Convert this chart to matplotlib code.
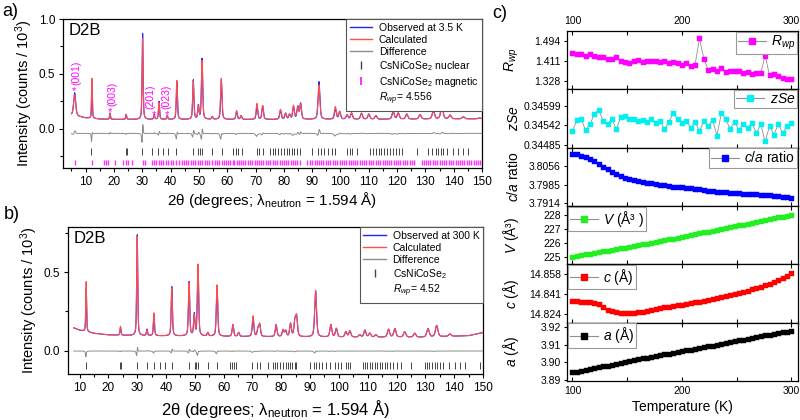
import numpy as np
import matplotlib
matplotlib.use('Agg')
import matplotlib.pyplot as plt
from matplotlib.lines import Line2D
from matplotlib.ticker import MultipleLocator, FixedLocator

plt.rcParams['font.family'] = ['Liberation Sans', 'DejaVu Sans']
plt.rcParams['mathtext.fontset'] = 'custom'
plt.rcParams['mathtext.rm'] = 'Liberation Sans'
plt.rcParams['mathtext.it'] = 'Liberation Sans:italic'
plt.rcParams['mathtext.bf'] = 'Liberation Sans:bold'
plt.rcParams['axes.linewidth'] = 0.9

# ---------------- panel a : D2B, 3.5 K ----------------
bg_a_x = [5, 7, 10, 15, 20, 40, 80, 120, 150]
bg_a_y = [0.125, 0.115, 0.100, 0.090, 0.087, 0.086, 0.086, 0.088, 0.092]
peak_a_pos = [6.1, 12.2, 18.6, 24.3, 30.1, 34.2, 35.9, 38.8, 42.2, 48.0, 49.8, 51.1,
              54.7, 57.9, 63.3, 64.9, 70.5, 72.5, 78.8, 80.6, 82.0, 83.4, 84.9, 85.9,
              92.4, 98.2, 99.7, 102.3, 103.9, 107.4, 110.0, 112.5, 118.6, 120.4, 123.4,
              128.1, 132.8, 135.8, 138.7, 143.4, 149.1]
peak_a_obs = [0.33, 0.43, 0.145, 0.13, 0.87, 0.13, 0.25, 0.12, 0.43, 0.445, 0.21, 0.64,
              0.11, 0.44, 0.16, 0.12, 0.21, 0.21, 0.17, 0.14, 0.13, 0.20, 0.20, 0.23,
              0.43, 0.18, 0.157, 0.127, 0.143, 0.143, 0.135, 0.12, 0.157, 0.143, 0.135,
              0.13, 0.167, 0.21, 0.125, 0.11, 0.10]
peak_a_calc = [0.31, 0.46, 0.14, 0.135, 0.83, 0.125, 0.24, 0.118, 0.44, 0.43, 0.20, 0.62,
               0.112, 0.46, 0.165, 0.12, 0.23, 0.21, 0.175, 0.14, 0.13, 0.21, 0.19, 0.22,
               0.40, 0.20, 0.155, 0.127, 0.145, 0.14, 0.135, 0.12, 0.16, 0.145, 0.135,
               0.13, 0.16, 0.20, 0.125, 0.11, 0.10]
nuc_a = [12.0, 24.1, 24.6, 30.0, 33.5, 35.6, 37.4, 39.2, 42.0, 48.0, 49.8, 50.4, 51.2,
         54.8, 58.0, 62.1, 63.0, 63.9, 65.2, 70.4, 71.3, 72.8, 75.1, 76.0, 77.0, 78.0,
         79.0, 80.2, 81.0, 81.9, 82.9, 83.7, 84.5, 85.7, 90.0, 92.0, 93.2, 94.3, 95.5,
         96.9, 98.1, 102.2, 103.2, 104.1, 105.8, 110.4, 111.5, 112.5, 113.5, 114.5,
         115.4, 116.5, 117.4, 118.4, 119.6, 120.6, 121.9, 126.9, 131.0, 132.2, 133.6,
         134.5, 135.4, 136.3, 137.5, 139.7, 141.6, 143.2, 145.0]
mag_a = [6.1, 12.2, 16.6, 17.2, 18.0, 20.5, 23.3, 24.2, 24.9, 26.2, 30.1, 30.9,
         33.5, 34.2, 35.0, 35.8, 36.5, 37.4, 38.3, 39.0, 40.0, 40.8, 42.0, 43.1, 43.9,
         44.6, 45.5, 46.3, 47.1, 48.0, 48.8, 49.8, 50.4, 51.2, 52.1, 52.9, 53.7, 54.8,
         55.6, 56.3, 57.2, 58.0, 58.9, 59.6, 60.4, 61.1, 61.9, 62.5, 63.3, 64.0, 64.9,
         65.7, 66.4, 67.3, 68.1, 68.8, 69.7, 70.4, 71.3, 72.0, 72.8, 73.7, 74.5, 75.2,
         76.0, 76.9, 77.6, 78.5, 79.2, 80.1, 80.8, 81.6, 82.5, 83.3, 84.0, 84.8, 85.7,
         88.3, 89.1, 90.0, 90.9, 91.6, 92.4, 93.3, 94.0, 94.8, 95.7, 96.4, 97.2, 98.1,
         98.8, 99.7, 100.4, 101.2, 102.1, 102.9, 103.6, 104.4, 105.3, 106.0, 106.8,
         107.7, 108.4, 109.2, 110.1, 110.8, 111.6, 112.5, 113.2, 114.0, 114.9, 115.6,
         116.4, 117.3, 118.0, 118.8, 119.7, 120.4, 121.2, 122.1, 122.8, 123.6, 124.5,
         125.2, 126.0, 128.7, 129.4, 130.2, 131.1, 131.8, 132.6, 133.5, 134.2, 135.0,
         135.9, 136.6, 137.4, 138.3, 139.0, 139.8, 140.7, 141.4, 142.2, 143.1, 143.8,
         144.6, 145.5, 146.2, 147.0, 147.9, 148.6, 149.4]
mag_labels = ['(001)', '(003)', '(201)', '(023)']
mag_star_x = [6.0, 18.6, 34.3, 38.7]
mag_star_y = [0.345, 0.15, 0.13, 0.125]
mag_text_x = [6.6, 19.3, 33.0, 38.5]

# ---------------- panel b : D2B, 300 K ----------------
bg_b_x = [8, 10, 15, 20, 30, 60, 100, 130, 145, 150]
bg_b_y = [0.145, 0.13, 0.11, 0.10, 0.095, 0.09, 0.085, 0.085, 0.095, 0.115]
peak_b_pos = [12.3, 24.2, 30.0, 33.4, 35.8, 42.0, 48.0, 49.8, 51.1, 54.5, 57.7, 63.2,
              65.2, 70.2, 71.9, 72.5, 78.2, 80.6, 81.5, 83.2, 84.7, 85.3, 91.9, 97.2,
              99.1, 102.4, 103.8, 107.2, 109.0, 110.7, 112.8, 117.2, 119.4, 122.8, 126.3,
              130.9, 133.9, 138.5]
peak_b_obs = [0.40, 0.15, 0.745, 0.135, 0.225, 0.41, 0.44, 0.23, 0.53, 0.113, 0.41, 0.165,
              0.115, 0.21, 0.135, 0.165, 0.165, 0.13, 0.125, 0.17, 0.18, 0.21, 0.38, 0.165,
              0.14, 0.12, 0.125, 0.10, 0.13, 0.11, 0.10, 0.135, 0.14, 0.12, 0.11,
              0.14, 0.16, 0.105]
peak_b_calc = [0.445, 0.155, 0.73, 0.13, 0.24, 0.40, 0.43, 0.22, 0.55, 0.113, 0.42, 0.165,
               0.115, 0.22, 0.135, 0.165, 0.165, 0.13, 0.125, 0.17, 0.18, 0.21, 0.385, 0.165,
               0.14, 0.12, 0.125, 0.10, 0.13, 0.11, 0.10, 0.135, 0.14, 0.12, 0.11,
               0.14, 0.16, 0.105]
nuc_b = [12.3, 24.2, 24.4, 30.0, 33.4, 35.8, 37.8, 39.5, 42.0, 48.0, 49.9, 50.5, 51.1,
         54.5, 57.7, 62.3, 63.0, 63.6, 64.4, 70.0, 71.6, 72.5, 75.4, 77.1, 77.7, 78.5,
         79.4, 80.6, 81.5, 82.3, 82.9, 83.8, 84.7, 85.2, 89.9, 91.3, 92.2, 93.1, 94.3,
         95.4, 96.8, 98.5, 99.7, 100.9, 102.4, 103.2, 103.8, 108.2, 109.0, 109.8, 110.7,
         111.6, 112.4, 113.2, 114.2, 115.1, 115.9, 116.7, 117.6, 118.8, 120.0, 121.7,
         124.9, 129.8, 130.6, 131.3, 132.3, 133.3, 134.1, 135.0, 136.2, 138.1, 140.2,
         141.9, 143.7, 149.1]

# ---------------- panel c : refined parameters vs temperature ----------------
T = np.arange(100, 301, 4)
rwp = [1.443, 1.441, 1.438, 1.432, 1.440, 1.430, 1.425, 1.428, 1.420, 1.418,
       1.425, 1.410, 1.405, 1.400, 1.410, 1.415, 1.405, 1.410, 1.408, 1.410,
       1.405, 1.408, 1.400, 1.405, 1.402, 1.395, 1.400, 1.390, 1.395, 1.505,
       1.420, 1.372, 1.378, 1.370, 1.382, 1.365, 1.370, 1.366, 1.368, 1.360,
       1.362, 1.355, 1.358, 1.360, 1.432, 1.350, 1.355, 1.345, 1.340, 1.335, 1.336]
zse = [0.34525, 0.34558, 0.34560, 0.34528, 0.34545, 0.34575, 0.34588, 0.34555, 0.34545, 0.34562,
       0.34530, 0.34565, 0.34570, 0.34560, 0.34562, 0.34555, 0.34558, 0.34552, 0.34560, 0.34550,
       0.34556, 0.34530, 0.34552, 0.34578, 0.34560, 0.34548, 0.34555, 0.34535, 0.34552, 0.34525,
       0.34555, 0.34540, 0.34558, 0.34512, 0.34578, 0.34560, 0.34532, 0.34552, 0.34528, 0.34545,
       0.34535, 0.34548, 0.34520, 0.34545, 0.34495, 0.34540, 0.34515, 0.34545, 0.34520, 0.34540, 0.34548]
c_over_a = [3.8102, 3.8100, 3.8096, 3.8090, 3.8082, 3.8074, 3.8064, 3.8054, 3.8044, 3.8034,
            3.8026, 3.8018, 3.8012, 3.8007, 3.8002, 3.7999, 3.7996, 3.7993, 3.7990, 3.7987,
            3.7985, 3.7983, 3.7980, 3.7978, 3.7976, 3.7975, 3.7973, 3.7971, 3.7969, 3.7967,
            3.7965, 3.7962, 3.7960, 3.7958, 3.7958, 3.7956, 3.7954, 3.7953, 3.7953, 3.7951,
            3.7950, 3.7949, 3.7949, 3.7947, 3.7946, 3.7944, 3.7943, 3.7941, 3.7939, 3.7938, 3.7936]
vol = [225.00, 225.05, 225.10, 225.16, 225.21, 225.26, 225.32, 225.38, 225.43, 225.49,
       225.55, 225.60, 225.66, 225.72, 225.78, 225.84, 225.90, 225.95, 226.01, 226.07,
       226.13, 226.19, 226.25, 226.31, 226.38, 226.44, 226.50, 226.56, 226.62, 226.68,
       226.75, 226.81, 226.87, 226.93, 227.00, 227.06, 227.12, 227.19, 227.25, 227.31,
       227.38, 227.44, 227.50, 227.57, 227.63, 227.70, 227.76, 227.83, 227.89, 227.96, 228.03]
c_par = [14.8355, 14.8350, 14.8348, 14.8346, 14.8342, 14.8335, 14.8325, 14.8300, 14.8280, 14.8268,
         14.8262, 14.8255, 14.8250, 14.8252, 14.8255, 14.8258, 14.8262, 14.8270, 14.8278, 14.8285,
         14.8290, 14.8298, 14.8302, 14.8310, 14.8318, 14.8322, 14.8330, 14.8335, 14.8342, 14.8348,
         14.8352, 14.8360, 14.8368, 14.8378, 14.8385, 14.8395, 14.8405, 14.8410, 14.8420, 14.8432,
         14.8440, 14.8452, 14.8462, 14.8475, 14.8488, 14.8500, 14.8515, 14.8528, 14.8545, 14.8565, 14.8590]
a_par = [3.8945, 3.8948, 3.8953, 3.8957, 3.8962, 3.8968, 3.8972, 3.8978, 3.8982, 3.8988,
         3.8993, 3.8998, 3.9003, 3.9008, 3.9012, 3.9017, 3.9022, 3.9026, 3.9031, 3.9036,
         3.9040, 3.9045, 3.9049, 3.9054, 3.9058, 3.9063, 3.9068, 3.9072, 3.9077, 3.9082,
         3.9086, 3.9091, 3.9095, 3.9100, 3.9105, 3.9110, 3.9114, 3.9119, 3.9124, 3.9128,
         3.9133, 3.9138, 3.9142, 3.9147, 3.9152, 3.9156, 3.9161, 3.9165, 3.9170, 3.9174, 3.9178]

BLUE = '#2222ff'
RED = '#ff4d4d'
GRAY = '#8c8c8c'


def profile(x, bgx, bgy, pos, tops, shift=0.0, sharp=1.0):
    # background + pseudo-Voigt peaks whose tops sit at the values
    y = np.interp(x, bgx, bgy)
    for p, t in zip(pos, tops):
        h = t - np.interp(p, bgx, bgy)
        w = 0.9 if p < 8 else 0.28 + 0.0055 * p
        w *= sharp
        d = (x - p - shift) / w
        y = y + h * (0.5 * np.exp(-4 * np.log(2) * d ** 2) + 0.5 / (1 + 4 * d ** 2))
    return y


def style_pattern(ax, xlim, ylim, yticks):
    ax.set_xlim(xlim)
    ax.set_ylim(ylim)
    ax.xaxis.set_major_locator(FixedLocator(range(10, 151, 10)))
    ax.xaxis.set_minor_locator(MultipleLocator(5))
    ax.set_yticks(yticks)
    ax.yaxis.set_minor_locator(MultipleLocator(0.25))
    ax.tick_params(which='both', direction='out', labelsize=8.5, length=3, width=0.8, pad=2.5)
    ax.tick_params(which='minor', length=2)
    ax.set_ylabel('Intensity (counts / 10$^3$)', fontsize=10.5, labelpad=3)
    ax.text(0.013, 0.975, 'D2B', transform=ax.transAxes, va='top', ha='left', fontsize=12)


fig = plt.figure(figsize=(8, 4.2), dpi=100)

# ---- a)
axa = fig.add_axes([63 / 800, 1 - 168 / 420, 419 / 800, 149 / 420])
xa = np.arange(5.0, 150.0, 0.04)
calc_a = profile(xa, bg_a_x, bg_a_y, peak_a_pos, peak_a_calc)
obs_a = profile(xa, bg_a_x, bg_a_y, peak_a_pos, peak_a_obs, shift=0.03, sharp=0.92)
axa.plot(xa, obs_a, color=BLUE, lw=0.8)
axa.plot(xa, calc_a, color=RED, lw=0.8)
axa.plot(xa, obs_a - calc_a - 0.04, color=GRAY, lw=0.7)
axa.vlines(nuc_a, -0.235, -0.175, color='#444444', lw=0.7)
axa.vlines(mag_a, -0.33, -0.28, color='#ff33ff', lw=1.0)
for lab, sx, sy, tx in zip(mag_labels, mag_star_x, mag_star_y, mag_text_x):
    axa.text(sx, sy, '*', color='#ff00ff', fontsize=8, ha='center', va='center')
    axa.text(tx, sy + 0.055, lab, color='#ff00ff', fontsize=7.5, rotation=90,
             ha='center', va='bottom')
style_pattern(axa, (2, 150), (-0.355, 1.0), [0.0, 0.5, 1.0])
axa.set_yticklabels(['0.0', '0.5', '1.0'])
axa.set_xlabel('2θ (degrees; λ$_{\\mathrm{neutron}}$ = 1.594 Å)', fontsize=11, labelpad=2)

handles_a = [Line2D([], [], color=BLUE, lw=1), Line2D([], [], color=RED, lw=1),
             Line2D([], [], color=GRAY, lw=1),
             Line2D([], [], color='#444444', marker='|', ls='none', ms=6),
             Line2D([], [], color='#ff33ff', marker='|', ls='none', ms=6, mew=1.5),
             Line2D([], [], ls='none')]
labels_a = ['Observed at 3.5 K', 'Calculated', 'Difference', 'CsNiCoSe$_2$ nuclear',
            'CsNiCoSe$_2$ magnetic', '$R_{wp}$= 4.556']
leg = axa.legend(handles_a, labels_a, loc='upper right', borderaxespad=0, fontsize=7.5,
                 fancybox=False, framealpha=1, edgecolor='#555555', handlelength=2.2,
                 labelspacing=0.2, borderpad=0.35, handletextpad=0.6)
leg.get_frame().set_linewidth(0.8)

# ---- b)
axb = fig.add_axes([68 / 800, 1 - 374 / 420, 415 / 800, 147 / 420])
xb = np.arange(8.0, 150.0, 0.04)
calc_b = profile(xb, bg_b_x, bg_b_y, peak_b_pos, peak_b_calc)
obs_b = profile(xb, bg_b_x, bg_b_y, peak_b_pos, peak_b_obs, shift=0.02, sharp=0.95)
axb.plot(xb, obs_b, color=BLUE, lw=0.8)
axb.plot(xb, calc_b, color=RED, lw=0.8)
axb.plot(xb, (obs_b - calc_b) * 0.6 - 0.003, color=GRAY, lw=0.7)
axb.vlines(nuc_b, -0.115, -0.075, color='#444444', lw=0.7)
style_pattern(axb, (6, 150), (-0.15, 0.79), [0.0, 0.5])
axb.set_yticklabels(['0.0', '0.5'])
axb.set_xlabel('2θ (degrees; λ$_{\\mathrm{neutron}}$ = 1.594 Å)', fontsize=12, labelpad=3)

handles_b = [Line2D([], [], color=BLUE, lw=1), Line2D([], [], color=RED, lw=1),
             Line2D([], [], color=GRAY, lw=1),
             Line2D([], [], color='#444444', marker='|', ls='none', ms=6),
             Line2D([], [], ls='none')]
labels_b = ['Observed at 300 K', 'Calculated', 'Difference', 'CsNiCoSe$_2$', '$R_{wp}$= 4.52']
leg = axb.legend(handles_b, labels_b, loc='upper right', borderaxespad=0, fontsize=7.5,
                 fancybox=False, framealpha=1, edgecolor='#555555', handlelength=2.2,
                 labelspacing=0.2, borderpad=0.35, handletextpad=0.6)
leg.get_frame().set_linewidth(0.8)

# ---- c)
series = [rwp, zse, c_over_a, vol, c_par, a_par]
colors = ['#ff00ff', '#00f0f0', '#0000ff', '#22ee22', '#ff0000', '#000000']
ylabels = ['$R_{wp}$', '$zSe$', '$c/a$ ratio', '$V$ (Å³)', '$c$ (Å)', '$a$ (Å)']
leg_labels = ['$R_{wp}$', '$zSe$', '$c/a$ ratio', '$V$ (Å³ )', '$c$ (Å)', '$a$ (Å)']
leg_loc = ['upper right', 'upper right', 'upper right', 'upper left', 'upper left', 'upper left']
ylims = [(1.291, 1.536), (0.34477, 0.34647), (3.7904, 3.8126), (224.45, 228.65),
         (14.8169, 14.8665), (3.8895, 3.9224)]
yticks = [[1.328, 1.411, 1.494], [0.34485, 0.34542, 0.34599], [3.7914, 3.7985, 3.8056],
          [225, 226, 227, 228], [14.824, 14.841, 14.858], [3.89, 3.90, 3.91, 3.92]]
yticklabels = [['1.328', '1.411', '1.494'], ['0.34485', '0.34542', '0.34599'],
               ['3.7914', '3.7985', '3.8056'], ['225', '226', '227', '228'],
               ['14.824', '14.841', '14.858'], ['3.89', '3.90', '3.91', '3.92']]

top_px, bot_px = 31, 381
hpx = (bot_px - top_px) / 6
for i in range(6):
    y0 = 1 - (top_px + (i + 1) * hpx) / 420
    ax = fig.add_axes([567 / 800, y0, 231 / 800, hpx / 420])
    col = colors[i]
    ax.plot(T, series[i], color='#909090', lw=0.6, marker='s', ms=3.6, mfc=col, mec=col,
            mew=0.3, zorder=3)
    ax.set_xlim(95, 306)
    ax.set_ylim(ylims[i])
    ax.set_yticks(yticks[i])
    ax.set_yticklabels(yticklabels[i])
    ax.xaxis.set_major_locator(FixedLocator([100, 200, 300]))
    ax.xaxis.set_minor_locator(FixedLocator([150, 250]))
    ax.tick_params(axis='x', which='both', direction='in', top=True, length=3, width=0.8,
                   labelsize=7.5, labelbottom=(i == 5), labeltop=(i == 0))
    ax.tick_params(axis='y', direction='out', length=2.5, width=0.8, labelsize=7.5, pad=2)
    ax.set_ylabel(ylabels[i], fontsize=10)
    ax.yaxis.set_label_coords(-0.2, 0.5)
    h = Line2D([], [], color='#909090', lw=0.8, marker='s', ms=5, mfc=col, mec=col)
    lg = ax.legend([h], [leg_labels[i]], loc=leg_loc[i], borderaxespad=0.05, fontsize=10,
                   fancybox=False, framealpha=1, edgecolor='#999999', handlelength=2.0,
                   borderpad=0.15, handletextpad=0.4, numpoints=1)
    lg.get_frame().set_linewidth(0.8)
    if i == 5:
        ax.set_xlabel('Temperature (K)', fontsize=10, labelpad=3)

fig.text(0.003, 1 - 12 / 420, 'a)', fontsize=13, ha='left', va='center')
fig.text(0.005, 1 - 215 / 420, 'b)', fontsize=13, ha='left', va='center')
fig.text(492 / 800, 1 - 13 / 420, 'c)', fontsize=13, ha='left', va='center')

fig.savefig('out.png', dpi=100)
